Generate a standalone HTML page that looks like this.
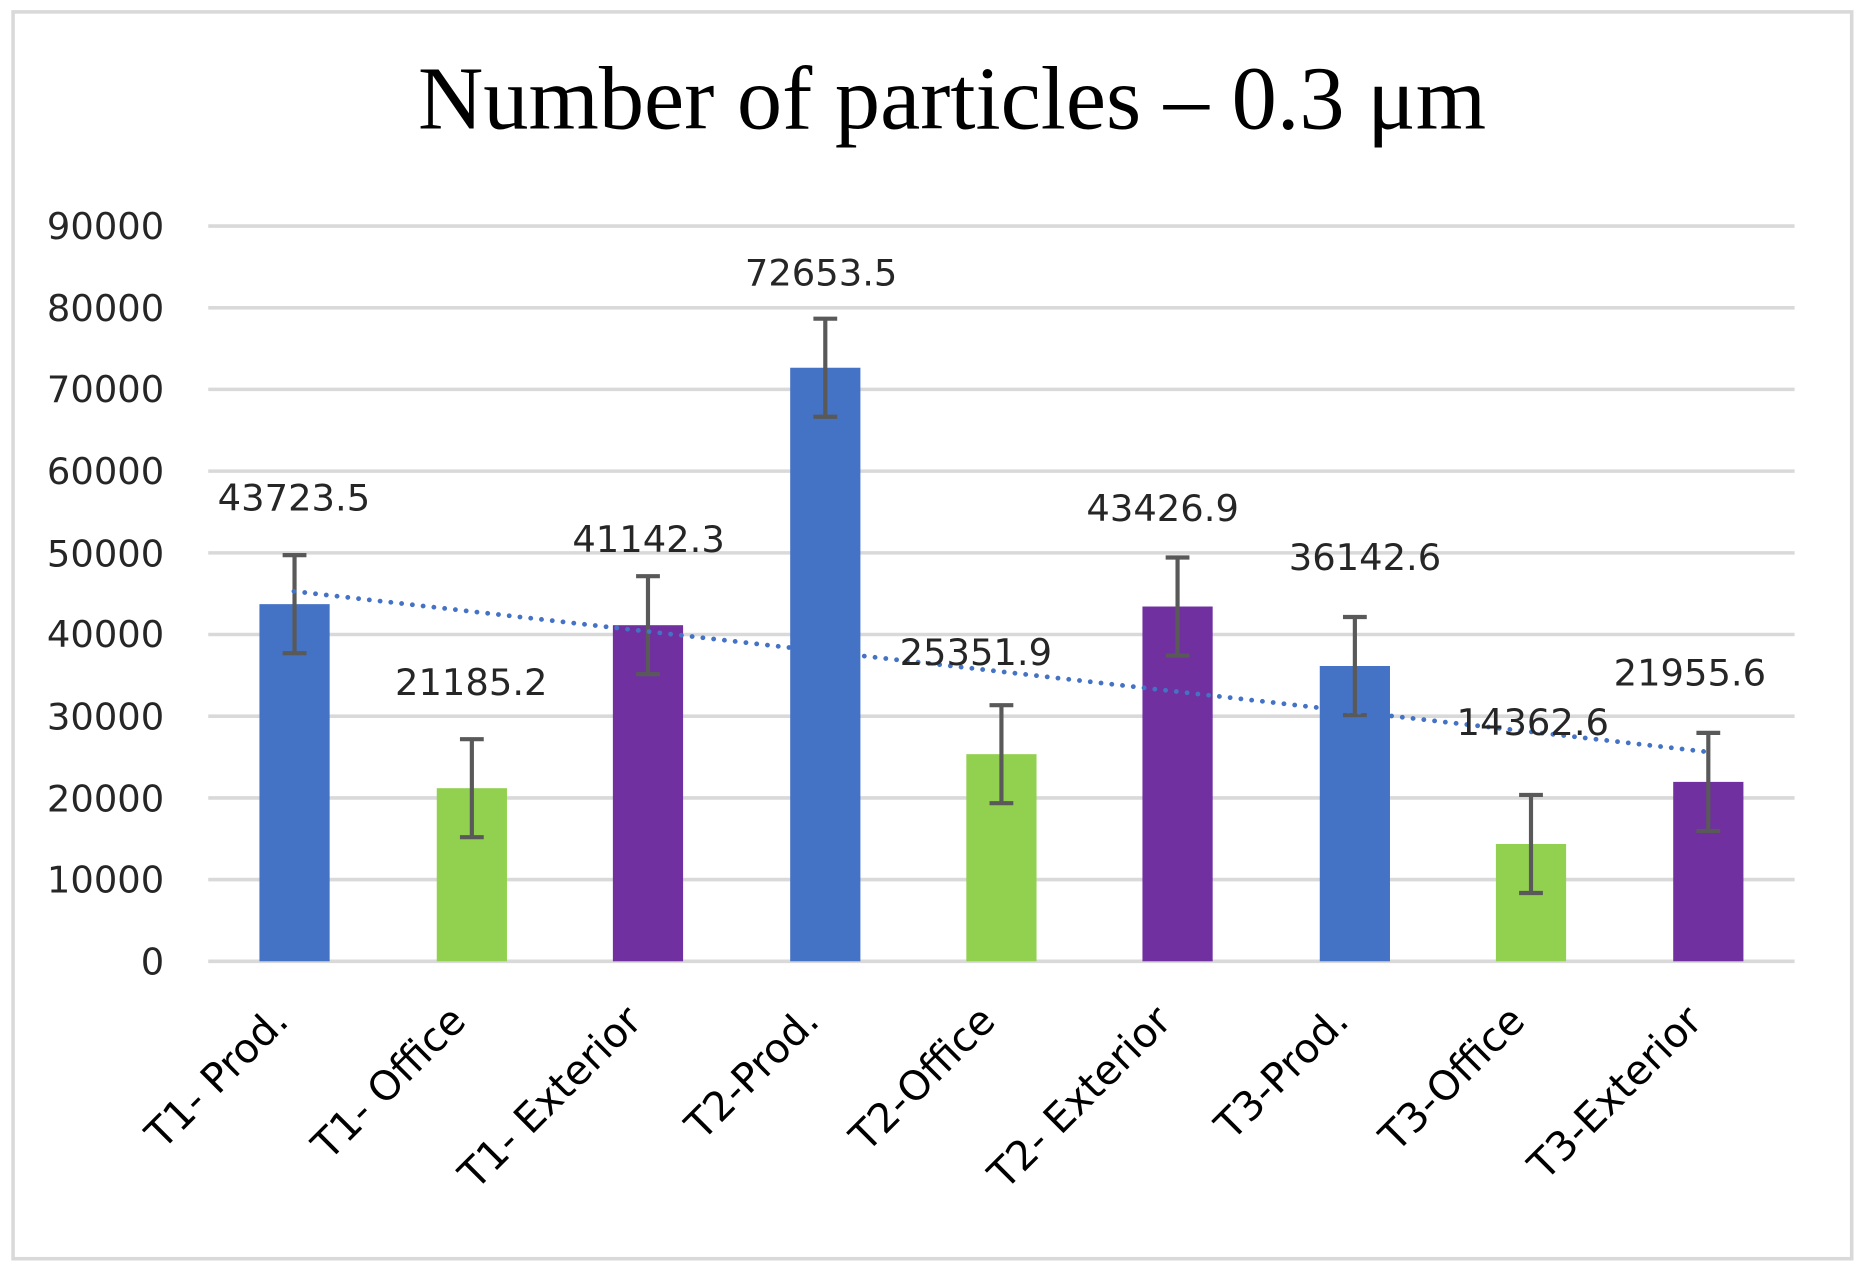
<!DOCTYPE html>
<html><head><meta charset="utf-8"><style>
html,body{margin:0;padding:0;background:#fff;}
svg{display:block;}
</style></head><body>
<svg width="1866" height="1273" viewBox="0 0 1568 1070" preserveAspectRatio="none" xmlns="http://www.w3.org/2000/svg">
<rect x="0" y="0" width="1568" height="1070" fill="#fff"/>
<rect x="11" y="10" width="1545" height="1048" fill="none" stroke="#d9d9d9" stroke-width="3"/>
<text x="800" y="108" text-anchor="middle" font-family="Liberation Serif, serif" font-size="76" fill="#000">Number of particles – 0.3 μm</text>
<g stroke="#d9d9d9" stroke-width="3">
<line x1="175" x2="1508" y1="190" y2="190"/>
<line x1="175" x2="1508" y1="258.7" y2="258.7"/>
<line x1="175" x2="1508" y1="327.3" y2="327.3"/>
<line x1="175" x2="1508" y1="396" y2="396"/>
<line x1="175" x2="1508" y1="464.7" y2="464.7"/>
<line x1="175" x2="1508" y1="533.3" y2="533.3"/>
<line x1="175" x2="1508" y1="602" y2="602"/>
<line x1="175" x2="1508" y1="670.7" y2="670.7"/>
<line x1="175" x2="1508" y1="739.3" y2="739.3"/>
<line x1="175" x2="1508" y1="808" y2="808"/>
</g>
<g font-family="DejaVu Sans, sans-serif" font-size="31" fill="#262626" text-anchor="end">
<text x="138" y="201">90000</text>
<text x="138" y="270">80000</text>
<text x="138" y="338">70000</text>
<text x="138" y="407">60000</text>
<text x="138" y="476">50000</text>
<text x="138" y="544">40000</text>
<text x="138" y="613">30000</text>
<text x="138" y="682">20000</text>
<text x="138" y="750">10000</text>
<text x="138" y="819">0</text>
</g>
<g>
<rect x="218" y="507.8" width="59" height="300.2" fill="#4472C4"/>
<rect x="367" y="662.5" width="59" height="145.5" fill="#92D050"/>
<rect x="515" y="525.5" width="59" height="282.5" fill="#7030A0"/>
<rect x="664" y="309.1" width="59" height="498.9" fill="#4472C4"/>
<rect x="812" y="633.9" width="59" height="174.1" fill="#92D050"/>
<rect x="960" y="509.8" width="59" height="298.2" fill="#7030A0"/>
<rect x="1109" y="559.8" width="59" height="248.2" fill="#4472C4"/>
<rect x="1257" y="709.4" width="59" height="98.6" fill="#92D050"/>
<rect x="1406" y="657.2" width="59" height="150.8" fill="#7030A0"/>
</g>
<g stroke="#595959" stroke-width="3.5" fill="none">
<path d="M247.5 466.6V549M237.5 466.6h20M237.5 549h20"/>
<path d="M396.5 621.3V703.7M386.5 621.3h20M386.5 703.7h20"/>
<path d="M544.5 484.3V566.7M534.5 484.3h20M534.5 566.7h20"/>
<path d="M693.5 267.9V350.3M683.5 267.9h20M683.5 350.3h20"/>
<path d="M841.5 592.7V675.1M831.5 592.7h20M831.5 675.1h20"/>
<path d="M989.5 468.6V551M979.5 468.6h20M979.5 551h20"/>
<path d="M1138.5 518.6V601M1128.5 518.6h20M1128.5 601h20"/>
<path d="M1286.5 668.2V750.6M1276.5 668.2h20M1276.5 750.6h20"/>
<path d="M1435.5 616V698.4M1425.5 616h20M1425.5 698.4h20"/>
</g>
<line x1="247" y1="497" x2="1435" y2="632" stroke="#4472C4" stroke-width="4" stroke-dasharray="0.1 9" stroke-linecap="round"/>
<g font-family="DejaVu Sans, sans-serif" font-size="31" fill="#262626" text-anchor="middle">
<text x="247" y="429">43723.5</text>
<text x="396" y="584">21185.2</text>
<text x="545" y="464">41142.3</text>
<text x="690" y="240">72653.5</text>
<text x="820" y="559">25351.9</text>
<text x="977" y="438">43426.9</text>
<text x="1147" y="479">36142.6</text>
<text x="1288" y="618">14362.6</text>
<text x="1420" y="576">21955.6</text>
</g>
<g font-family="DejaVu Sans, sans-serif" font-size="34" fill="#000" text-anchor="end">
<text transform="translate(244,860) rotate(-45)">T1- Prod.</text>
<text transform="translate(393,860) rotate(-45)">T1- Office</text>
<text transform="translate(541,860) rotate(-45)">T1- Exterior</text>
<text transform="translate(690,860) rotate(-45)">T2-Prod.</text>
<text transform="translate(838,860) rotate(-45)">T2-Office</text>
<text transform="translate(986,860) rotate(-45)">T2- Exterior</text>
<text transform="translate(1135,860) rotate(-45)">T3-Prod.</text>
<text transform="translate(1283,860) rotate(-45)">T3-Office</text>
<text transform="translate(1432,860) rotate(-45)">T3-Exterior</text>
</g>
</svg>
</body></html>
